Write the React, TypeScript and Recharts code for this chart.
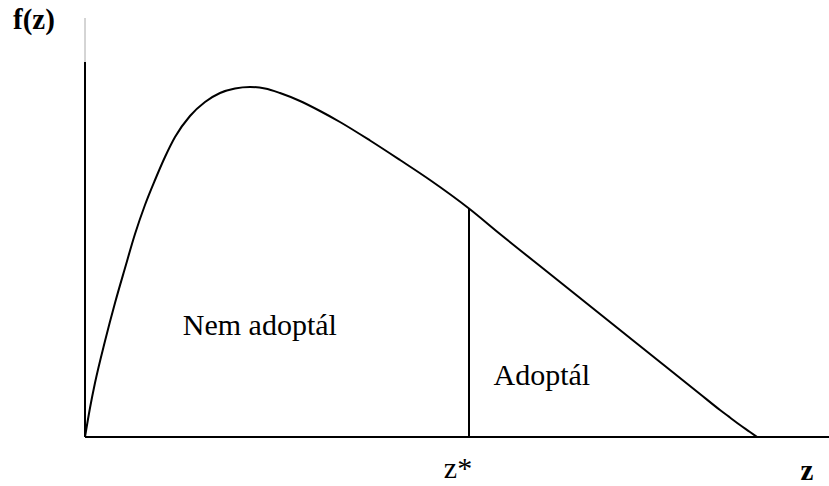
import { LineChart, Line, XAxis, YAxis, ReferenceLine, ReferenceDot } from "recharts";

// density curve f(z)
const zValues = [
  0, 0.067, 0.134, 0.269, 0.403, 0.538, 0.672, 0.806, 0.941, 1.075, 1.21, 1.411,
  1.613, 1.815, 2.016, 2.218, 2.419, 2.621, 2.89, 3.159, 3.427, 3.831, 4.234,
  4.637, 5.161, 5.578, 6.25, 6.922, 7.594, 8.266, 8.535, 8.669, 8.804, 8.938,
  9.032,
];
const fValues = [
  0, 0.029, 0.054, 0.096, 0.134, 0.169, 0.203, 0.232, 0.257, 0.28, 0.3, 0.321,
  0.335, 0.344, 0.3485, 0.35, 0.3485, 0.344, 0.336, 0.326, 0.315, 0.2965, 0.277,
  0.257, 0.2285, 0.203, 0.163, 0.123, 0.083, 0.043, 0.027, 0.0195, 0.012, 0.005,
  0,
];

// threshold z* sits on one of the curve points
const zStarIndex = 24;
const zStar = zValues[zStarIndex];
const fStar = fValues[zStarIndex];

// region labels
const regionNames = ["Nem adoptál", "Adoptál"];
const regionZ = [2.35, 6.14];
const regionF = [0.102, 0.052];

const xDomain = [0, 10];
const yDomain = [0, 0.419];
const yAxisDarkTop = 0.375;

const data = zValues.map((z, i) => ({ z, f: fValues[i] }));

const serif = {
  fontFamily: '"Liberation Serif", "DejaVu Serif", "Times New Roman", serif',
};

export default function App() {
  return (
    <div style={{ position: "absolute", left: 0, top: 0, background: "#fff" }}>
      <LineChart
        width={829}
        height={486}
        data={data}
        margin={{ top: 18, right: 0, bottom: 0, left: 0 }}
      >
        <XAxis
          dataKey="z"
          type="number"
          domain={xDomain}
          ticks={[zStar]}
          height={49}
          stroke="#000"
          strokeWidth={2}
          tickLine={false}
          tick={(props: any) => (
            <text
              x={props.x - 11}
              y={437 + 41}
              textAnchor="middle"
              style={serif}
              fontSize={30}
              fill="#000"
            >
              z*
            </text>
          )}
          label={(props: any) => {
            const vb = props.viewBox;
            return (
              <text
                x={vb.x + vb.width - 22}
                y={vb.y + 43}
                textAnchor="middle"
                style={serif}
                fontSize={29}
                fontWeight="bold"
                fill="#000"
              >
                z
              </text>
            );
          }}
        />
        <YAxis
          type="number"
          domain={yDomain}
          width={85}
          axisLine={false}
          tickLine={false}
          tick={false}
          label={(props: any) => {
            const vb = props.viewBox;
            return (
              <text
                x={13}
                y={vb.y + 11}
                style={serif}
                fontSize={29}
                fontWeight="bold"
                fill="#000"
              >
                f(z)
              </text>
            );
          }}
        />

        {/* y axis: dark part plus the faint stub above it */}
        <ReferenceLine
          segment={[
            { x: 0, y: 0 },
            { x: 0, y: yAxisDarkTop },
          ]}
          stroke="#000"
          strokeWidth={2}
        />
        <ReferenceLine
          segment={[
            { x: 0, y: yAxisDarkTop },
            { x: 0, y: yDomain[1] },
          ]}
          stroke="#aaa"
          strokeWidth={1}
        />

        {/* z* cut-off */}
        <ReferenceLine
          segment={[
            { x: zStar, y: 0 },
            { x: zStar, y: fStar },
          ]}
          stroke="#000"
          strokeWidth={2}
        />

        <Line
          type="monotone"
          dataKey="f"
          stroke="#000"
          strokeWidth={2}
          dot={false}
          activeDot={false}
          isAnimationActive={false}
        />

        {regionNames.map((name, i) => (
          <ReferenceDot
            key={name}
            x={regionZ[i]}
            y={regionF[i]}
            r={0}
            fill="none"
            stroke="none"
            label={(props: any) => (
              <text
                x={props.viewBox.x}
                y={props.viewBox.y}
                textAnchor="middle"
                style={serif}
                fontSize={30}
                fill="#000"
              >
                {name}
              </text>
            )}
          />
        ))}
      </LineChart>
    </div>
  );
}
